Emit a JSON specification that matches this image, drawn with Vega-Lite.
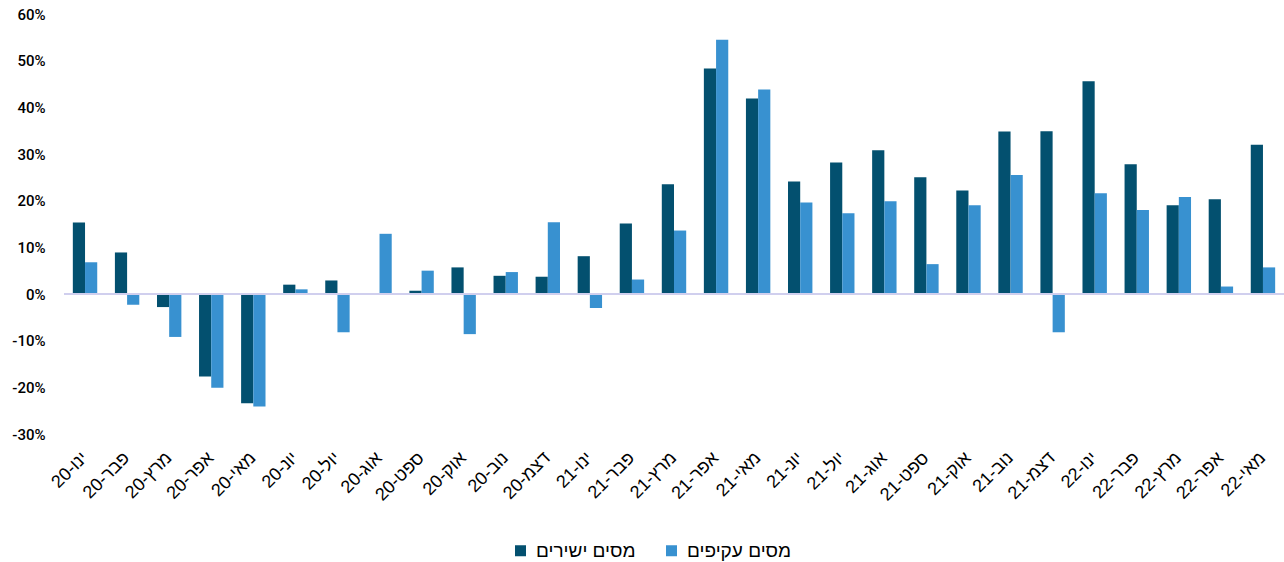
{
  "$schema": "https://vega.github.io/schema/vega-lite/v6.json",
  "autosize": "none",
  "width": 1220,
  "height": 420,
  "padding": {"left": 64, "top": 14, "right": 0, "bottom": 128},
  "background": "white",
  "config": {"view": {"stroke": null}},
  "layer": [
    {
      "data": {"values": [
        {"m": "ינו-20", "s": "מסים ישירים", "v": 0.153}, {"m": "ינו-20", "s": "מסים עקיפים", "v": 0.068},
        {"m": "פבר-20", "s": "מסים ישירים", "v": 0.089}, {"m": "פבר-20", "s": "מסים עקיפים", "v": -0.023},
        {"m": "מרץ-20", "s": "מסים ישירים", "v": -0.028}, {"m": "מרץ-20", "s": "מסים עקיפים", "v": -0.092},
        {"m": "אפר-20", "s": "מסים ישירים", "v": -0.177}, {"m": "אפר-20", "s": "מסים עקיפים", "v": -0.201},
        {"m": "מאי-20", "s": "מסים ישירים", "v": -0.234}, {"m": "מאי-20", "s": "מסים עקיפים", "v": -0.241},
        {"m": "יונ-20", "s": "מסים ישירים", "v": 0.020}, {"m": "יונ-20", "s": "מסים עקיפים", "v": 0.010},
        {"m": "יול-20", "s": "מסים ישירים", "v": 0.029}, {"m": "יול-20", "s": "מסים עקיפים", "v": -0.082},
        {"m": "אוג-20", "s": "מסים ישירים", "v": 0.0}, {"m": "אוג-20", "s": "מסים עקיפים", "v": 0.129},
        {"m": "ספט-20", "s": "מסים ישירים", "v": 0.007}, {"m": "ספט-20", "s": "מסים עקיפים", "v": 0.050},
        {"m": "אוק-20", "s": "מסים ישירים", "v": 0.057}, {"m": "אוק-20", "s": "מסים עקיפים", "v": -0.086},
        {"m": "נוב-20", "s": "מסים ישירים", "v": 0.039}, {"m": "נוב-20", "s": "מסים עקיפים", "v": 0.047},
        {"m": "דצמ-20", "s": "מסים ישירים", "v": 0.037}, {"m": "דצמ-20", "s": "מסים עקיפים", "v": 0.154},
        {"m": "ינו-21", "s": "מסים ישירים", "v": 0.081}, {"m": "ינו-21", "s": "מסים עקיפים", "v": -0.030},
        {"m": "פבר-21", "s": "מסים ישירים", "v": 0.151}, {"m": "פבר-21", "s": "מסים עקיפים", "v": 0.031},
        {"m": "מרץ-21", "s": "מסים ישירים", "v": 0.235}, {"m": "מרץ-21", "s": "מסים עקיפים", "v": 0.136},
        {"m": "אפר-21", "s": "מסים ישירים", "v": 0.483}, {"m": "אפר-21", "s": "מסים עקיפים", "v": 0.545},
        {"m": "מאי-21", "s": "מסים ישירים", "v": 0.419}, {"m": "מאי-21", "s": "מסים עקיפים", "v": 0.438},
        {"m": "יונ-21", "s": "מסים ישירים", "v": 0.241}, {"m": "יונ-21", "s": "מסים עקיפים", "v": 0.196},
        {"m": "יול-21", "s": "מסים ישירים", "v": 0.282}, {"m": "יול-21", "s": "מסים עקיפים", "v": 0.173},
        {"m": "אוג-21", "s": "מסים ישירים", "v": 0.308}, {"m": "אוג-21", "s": "מסים עקיפים", "v": 0.199},
        {"m": "ספט-21", "s": "מסים ישירים", "v": 0.250}, {"m": "ספט-21", "s": "מסים עקיפים", "v": 0.064},
        {"m": "אוק-21", "s": "מסים ישירים", "v": 0.222}, {"m": "אוק-21", "s": "מסים עקיפים", "v": 0.190},
        {"m": "נוב-21", "s": "מסים ישירים", "v": 0.348}, {"m": "נוב-21", "s": "מסים עקיפים", "v": 0.255},
        {"m": "דצמ-21", "s": "מסים ישירים", "v": 0.349}, {"m": "דצמ-21", "s": "מסים עקיפים", "v": -0.082},
        {"m": "ינו-22", "s": "מסים ישירים", "v": 0.456}, {"m": "ינו-22", "s": "מסים עקיפים", "v": 0.216},
        {"m": "פבר-22", "s": "מסים ישירים", "v": 0.278}, {"m": "פבר-22", "s": "מסים עקיפים", "v": 0.180},
        {"m": "מרץ-22", "s": "מסים ישירים", "v": 0.190}, {"m": "מרץ-22", "s": "מסים עקיפים", "v": 0.208},
        {"m": "אפר-22", "s": "מסים ישירים", "v": 0.203}, {"m": "אפר-22", "s": "מסים עקיפים", "v": 0.016},
        {"m": "מאי-22", "s": "מסים ישירים", "v": 0.320}, {"m": "מאי-22", "s": "מסים עקיפים", "v": 0.057}
      ]},
      "mark": {"type": "bar"},
      "encoding": {
        "x": {
          "field": "m", "type": "nominal", "sort": null,
          "scale": {"paddingInner": 0.42, "paddingOuter": 0.21},
          "axis": {
            "title": null, "domain": false, "ticks": false,
            "labelAngle": -45, "labelAlign": "right", "labelBaseline": "middle",
            "labelPadding": 21, "labelFont": "Liberation Sans", "labelFontSize": 18,
            "labelColor": "#000000", "labelOverlap": false
          }
        },
        "xOffset": {"field": "s", "type": "nominal", "sort": ["מסים ישירים", "מסים עקיפים"]},
        "y": {
          "field": "v", "type": "quantitative",
          "scale": {"domain": [-0.3, 0.6], "nice": false, "zero": false},
          "axis": {
            "title": null, "domain": false, "ticks": false, "grid": false,
            "values": [-0.3, -0.2, -0.1, 0, 0.1, 0.2, 0.3, 0.4, 0.5, 0.6],
            "labelExpr": "replace(format(datum.value, '.0%'), '\u2212', '-')",
            "labelPadding": 19, "labelFont": "Roboto", "labelFontWeight": 500,
            "labelFontSize": 15, "labelColor": "#000000"
          }
        },
        "color": {
          "field": "s", "type": "nominal",
          "scale": {"domain": ["מסים ישירים", "מסים עקיפים"], "range": ["#03506F", "#3891D0"]},
          "legend": {
            "title": null, "orient": "none", "direction": "horizontal",
            "legendX": 447, "legendY": 527,
            "symbolType": "square", "symbolSize": 121, "symbolStrokeWidth": 0,
            "labelFont": "Liberation Sans", "labelFontSize": 19, "labelColor": "#000000",
            "labelOffset": 6, "columnPadding": 26
          }
        }
      }
    },
    {
      "data": {"values": [{"z": 0}]},
      "mark": {"type": "rule", "color": "#d0cfee", "strokeWidth": 2},
      "encoding": {"y": {"field": "z", "type": "quantitative"}}
    }
  ]
}
